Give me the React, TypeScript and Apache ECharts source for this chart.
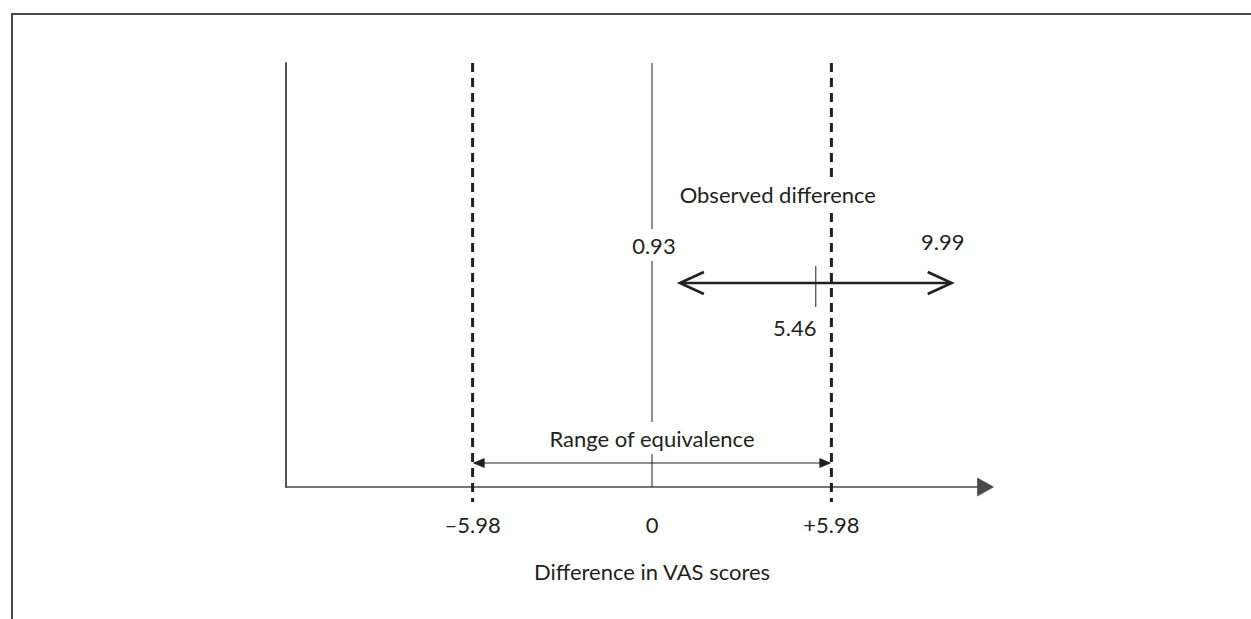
import { useEffect, useRef } from "react";
import * as echarts from "echarts";

// ---- data ----
const equivalenceLimits = [-5.98, 5.98];
const zeroLine = [0];
const observedInterval = [0.93, 5.46, 9.99]; // lower bound, point estimate, upper bound
const intervalLabels = ["0.93", "5.46", "9.99"];
const tickValues = [-5.98, 0, 5.98];
const tickLabels = ["\u20135.98", "0", "+5.98"];
const observedTitle = "Observed difference";
const rangeTitle = "Range of equivalence";
const axisTitle = "Difference in VAS scores";

// ---- layout / style constants ----
const FONT = "Lato, 'Open Sans', sans-serif";
const FS = 22;
const INK = "#231f20";
const Y_TOP = 424; // vertical extent of plotting area (schematic units)
const OBS_Y = 204;
const RANGE_Y = 24;
const DASH_BOTTOM = -15;

function txt(text: string, x: number, y: number, bg = false) {
  return {
    type: "text",
    x,
    y,
    z2: 10,
    style: {
      text,
      fontSize: FS,
      fontFamily: FONT,
      fill: INK,
      align: "center",
      verticalAlign: "middle",
      textAlign: "center",
      textVerticalAlign: "middle",
      backgroundColor: bg ? "#ffffff" : undefined,
      padding: bg ? [5, 3] : 0,
    },
  };
}

export default function App() {
  const ref = useRef<HTMLDivElement>(null);
  useEffect(() => {
    if (!ref.current) return;
    const chart = echarts.init(ref.current, null, { renderer: "svg" });

    const dashedSeries = equivalenceLimits.map((v) => ({
      type: "line",
      z: 3,
      clip: false,
      symbol: "none",
      silent: true,
      data: [
        [v, Y_TOP],
        [v, DASH_BOTTOM],
      ],
      lineStyle: { color: INK, width: 3, type: [9, 6] },
    }));

    const zeroSeries = zeroLine.map((v) => ({
      type: "line",
      z: 2,
      clip: false,
      symbol: "none",
      silent: true,
      data: [
        [v, Y_TOP],
        [v, 0],
      ],
      lineStyle: { color: INK, width: 1 },
    }));

    const option: any = {
      animation: false,
      backgroundColor: "#ffffff",
      grid: { left: 286, right: 265.4, top: 63, bottom: 132, containLabel: false },
      xAxis: {
        type: "value",
        min: -12.2,
        max: 11.12,
        splitLine: { show: false },
        axisTick: { show: false },
        axisLine: {
          show: true,
          onZero: false,
          symbol: ["none", "triangle"],
          symbolSize: [19, 17],
          lineStyle: { color: "#4a4a4a", width: 1.5 },
        },
        axisLabel: {
          show: true,
          customValues: tickValues,
          margin: 26,
          fontSize: FS,
          fontFamily: FONT,
          color: INK,
          formatter: (v: number) => {
            const i = tickValues.findIndex((t) => Math.abs(t - v) < 1e-6);
            return i >= 0 ? tickLabels[i] : "";
          },
        },
      },
      yAxis: {
        type: "value",
        min: 0,
        max: Y_TOP,
        splitLine: { show: false },
        axisTick: { show: false },
        axisLabel: { show: false },
        axisLine: { show: true, onZero: false, lineStyle: { color: "#555555", width: 2 } },
      },
      graphic: [
        {
          type: "polyline",
          shape: { points: [[12, 619], [12, 14], [1251, 14]] },
          style: { stroke: "#4a4a4a", lineWidth: 2, fill: "none" },
          silent: true,
        },
      ],
      series: [
        ...zeroSeries,
        ...dashedSeries,
        {
          // range of equivalence arrow
          type: "custom",
          z: 4,
          clip: false,
          silent: true,
          data: [equivalenceLimits],
          renderItem: (params: any, api: any) => {
            const a = api.coord([api.value(0), RANGE_Y]);
            const b = api.coord([api.value(1), RANGE_Y]);
            const mid = api.coord([0, RANGE_Y]);
            const axisMid = api.coord([0, 0]);
            const hl = 12;
            const hw = 5;
            return {
              type: "group",
              children: [
                {
                  type: "line",
                  shape: { x1: a[0] + 4, y1: a[1], x2: b[0] - 4, y2: b[1] },
                  style: { stroke: INK, lineWidth: 1.2 },
                },
                {
                  type: "polygon",
                  shape: { points: [[a[0], a[1]], [a[0] + hl, a[1] - hw], [a[0] + hl, a[1] + hw]] },
                  style: { fill: INK },
                },
                {
                  type: "polygon",
                  shape: { points: [[b[0], b[1]], [b[0] - hl, b[1] - hw], [b[0] - hl, b[1] + hw]] },
                  style: { fill: INK },
                },
                txt(rangeTitle, mid[0], mid[1] - 25, true),
                txt(axisTitle, axisMid[0], axisMid[1] + 84),
              ],
            };
          },
        },
        {
          // observed difference with its interval
          type: "custom",
          z: 5,
          clip: false,
          silent: true,
          data: [observedInterval],
          renderItem: (params: any, api: any) => {
            const l = api.coord([api.value(0), OBS_Y]);
            const m = api.coord([api.value(1), OBS_Y]);
            const u = api.coord([api.value(2), OBS_Y]);
            const al = 24;
            const aw = 11;
            const stroke = { stroke: INK, lineWidth: 2.6, fill: "none" };
            return {
              type: "group",
              children: [
                { type: "line", shape: { x1: l[0] + 1, y1: l[1], x2: u[0] - 1, y2: u[1] }, style: stroke },
                {
                  type: "polyline",
                  shape: { points: [[l[0] + al, l[1] - aw], [l[0], l[1]], [l[0] + al, l[1] + aw]] },
                  style: stroke,
                },
                {
                  type: "polyline",
                  shape: { points: [[u[0] - al, u[1] - aw], [u[0], u[1]], [u[0] - al, u[1] + aw]] },
                  style: stroke,
                },
                {
                  type: "line",
                  shape: { x1: m[0], y1: m[1] - 17, x2: m[0], y2: m[1] + 24 },
                  style: { stroke: INK, lineWidth: 1 },
                },
                txt(intervalLabels[0], l[0] - 26, l[1] - 38, true),
                txt(intervalLabels[1], m[0] - 21, m[1] + 44),
                txt(intervalLabels[2], u[0] - 9, u[1] - 42),
                txt(observedTitle, m[0] - 38, m[1] - 89, true),
              ],
            };
          },
        },
      ],
    };

    chart.setOption(option);
    return () => chart.dispose();
  }, []);

  return (
    <div
      ref={ref}
      style={{ position: "fixed", left: 0, top: 0, width: 1251, height: 619, background: "#fff" }}
    />
  );
}
